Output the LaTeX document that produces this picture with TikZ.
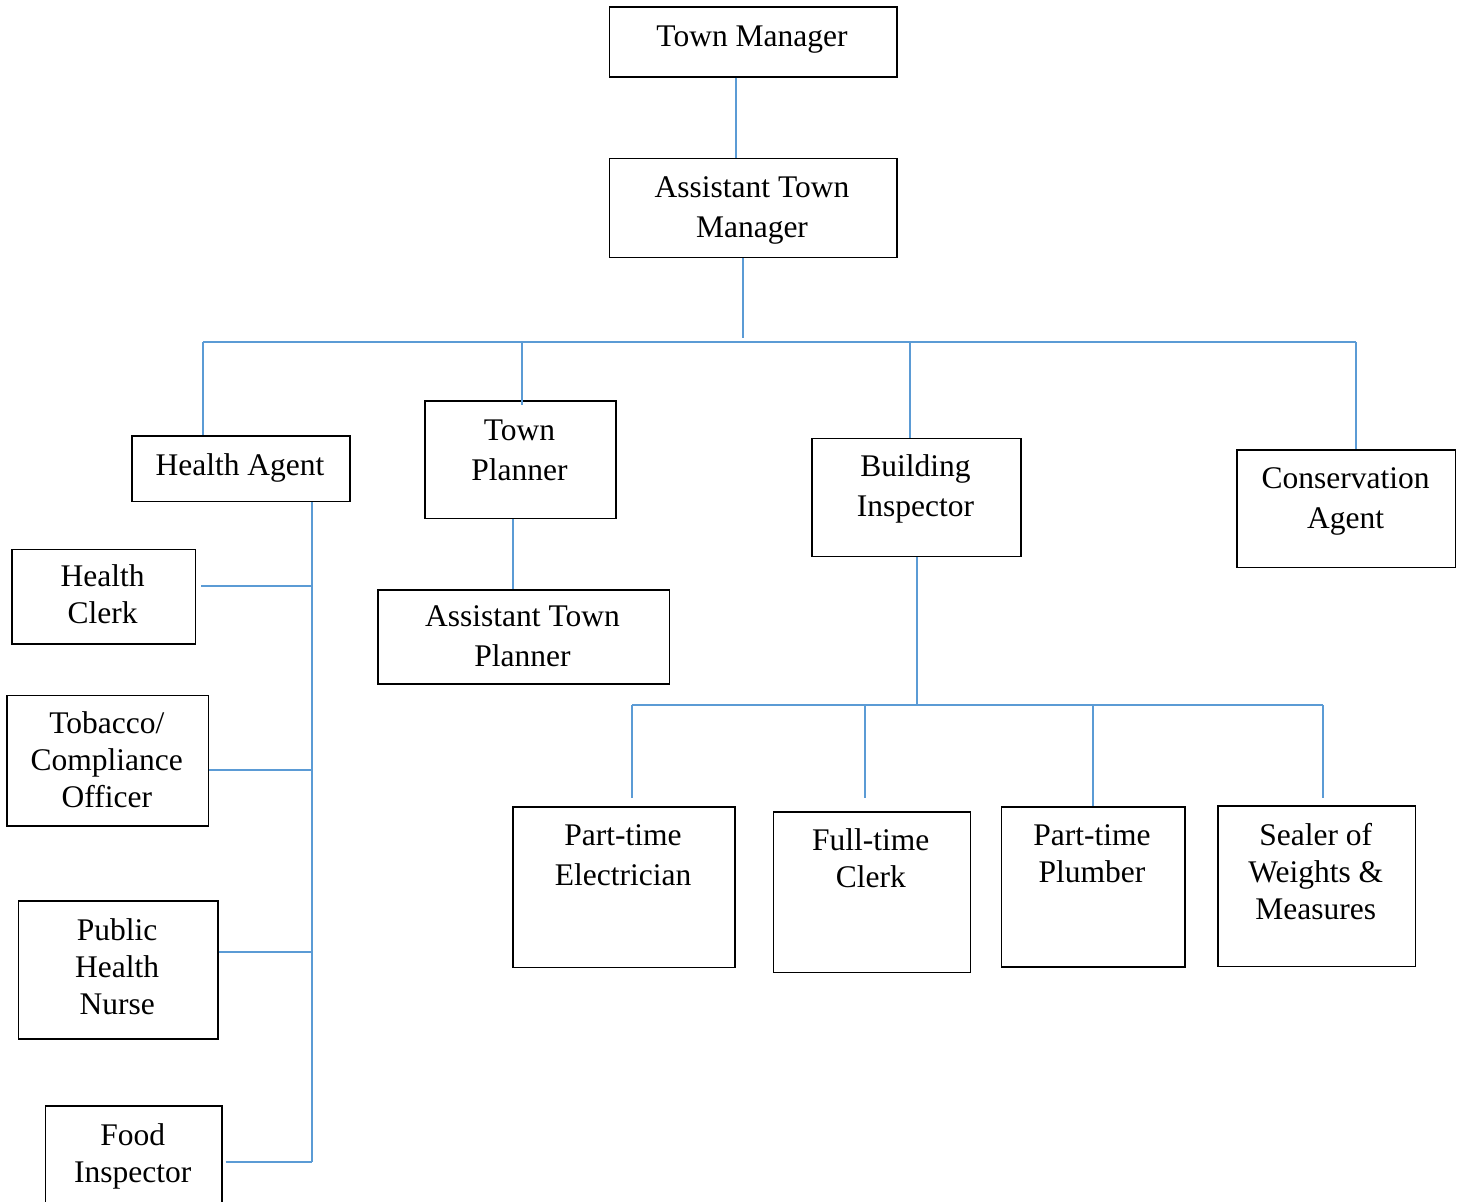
\documentclass[tikz,border=0pt]{standalone}
\usepackage{fontspec}
\setmainfont{Liberation Serif}
\usetikzlibrary{calc}
\definecolor{linkblue}{RGB}{91,155,213}
\begin{document}
\begin{tikzpicture}[x=1pt,y=-1pt,
  box/.style={draw=black, line width=1.5pt, inner sep=0pt, anchor=north west},
  conn/.style={draw=linkblue, line width=1.3pt},
  lbl/.style={anchor=north, inner sep=0pt, align=center,
              font=\fontsize{31.5}{37}\selectfont, yshift=25.9pt},
  lblw/.style={anchor=north, inner sep=0pt, align=center,
               font=\fontsize{31.5}{40}\selectfont, yshift=28pt},
]
\fill[white] (0,0) rectangle (1462,1202);
\clip (0,0) rectangle (1462,1202);

% ---- boxes ----
\node[box, minimum width=287.5pt, minimum height=70pt]   (tm)    at (608.5,6) {};
\node[box, minimum width=287.5pt, minimum height=99pt]   (atm)   at (608.5,157.5) {};
\node[box, minimum width=218pt,   minimum height=65.5pt] (ha)    at (131,435) {};
\node[box, minimum width=183.5pt, minimum height=94.5pt] (hc)    at (11,548.5) {};
\node[box, minimum width=201.5pt, minimum height=130.5pt](tob)   at (6,694.5) {};
\node[box, minimum width=199.5pt, minimum height=138pt]  (phn)   at (17.5,900) {};
\node[box, minimum width=176.5pt, minimum height=110pt]  (food)  at (44.5,1105) {};
\node[box, minimum width=191pt,   minimum height=117.5pt](tp)    at (424,400) {};
\node[box, minimum width=291.5pt, minimum height=94pt]   (atp)   at (377,589.3) {};
\node[box, minimum width=209pt,   minimum height=118pt]  (bi)    at (811,437.7) {};
\node[box, minimum width=218.5pt, minimum height=117.5pt](ca)    at (1236,449) {};
\node[box, minimum width=222pt,   minimum height=160.5pt](elec)  at (512,806) {};
\node[box, minimum width=197pt,   minimum height=160.5pt](clerk) at (772.5,811) {};
\node[box, minimum width=183.5pt, minimum height=160pt]  (plumb) at (1000.5,806) {};
\node[box, minimum width=197.5pt, minimum height=160.5pt](seal)  at (1217,805.3) {};

% ---- labels (placed by first baseline) ----
\node[lbl]  (tmt)    at (752,46)      {\strut Town Manager};
\node[lblw] (atmt)   at (752,197)     {\strut Assistant Town\\Manager};
\node[lbl]  (hat)    at (240,475)     {\strut Health Agent};
\node[lbl]  (hct)    at (102.7,586.7) {\strut Health\\Clerk};
\node[lbl]  (tobt)   at (106.8,733)   {\strut Tobacco/\\Compliance\\Officer};
\node[lbl]  (phnt)   at (117.2,940)   {\strut Public\\Health\\Nurse};
\node[lbl]  (foodt)  at (132.7,1145)  {\strut Food\\Inspector};
\node[lblw] (tpt)    at (519.5,440)   {\strut Town\\Planner};
\node[lblw] (atpt)   at (522.5,626.7) {\strut Assistant Town\\Planner};
\node[lblw] (bit)    at (915.5,476)   {\strut Building\\Inspector};
\node[lblw] (cat)    at (1345.5,488.3){\strut Conservation\\Agent};
\node[lblw] (elect)  at (623,845.7)   {\strut Part-time\\Electrician};
\node[lbl]  (clerkt) at (870.8,850)   {\strut Full-time\\Clerk};
\node[lbl]  (plumbt) at (1092,845)    {\strut Part-time\\Plumber};
\node[lbl]  (sealt)  at (1315.7,845)  {\strut Sealer of\\Weights \&\\Measures};

% ---- junction points ----
\coordinate (xtm)   at (736,0);
\coordinate (j0)    at (743,342);
\coordinate (j0top) at (743,338);
\coordinate (busL)  at (203,342);
\coordinate (busR)  at (1356,342);
\coordinate (btp)   at (522,342);
\coordinate (btpE)  at (522,405);
\coordinate (bbi)   at (910,342);
\coordinate (hsEnd) at (312,1162);
\coordinate (hcj)   at (312,586);
\coordinate (tj)    at (312,770);
\coordinate (pj)    at (312,952);
\coordinate (tpx)   at (513,0);
\coordinate (b2j)   at (917,705);
\coordinate (b2L)   at (632,705);
\coordinate (b2R)   at (1323,705);
\coordinate (b2c)   at (865,705);
\coordinate (b2p)   at (1093,705);
\coordinate (eTop)  at (632,798);
\coordinate (cTop)  at (865,798);
\coordinate (sTop)  at (1323,798);

% ---- connectors ----
\draw[conn] (tm.south -| xtm) -- (atm.north -| xtm);
\draw[conn] (atm.south -| j0) -- (j0top);
\draw[conn] (busL) -- (busR);
\draw[conn] (busL) -- (ha.north -| busL);
\draw[conn] (btp) -- (btpE);
\draw[conn] (bbi) -- (bi.north -| bbi);
\draw[conn] (busR) -- (ca.north -| busR);

\draw[conn] (ha.south -| hsEnd) -- (hsEnd);
\draw[conn] ($(hc.east |- hcj)+(5,0)$) -- (hcj);
\draw[conn] (tob.east |- tj) -- (tj);
\draw[conn] (phn.east |- pj) -- (pj);
\draw[conn] ($(food.east |- hsEnd)+(3,0)$) -- (hsEnd);

\draw[conn] (tp.south -| tpx) -- (atp.north -| tpx);

\draw[conn] (bi.south -| b2j) -- (b2j);
\draw[conn] (b2L) -- (b2R);
\draw[conn] (b2L) -- (eTop);
\draw[conn] (b2c) -- (cTop);
\draw[conn] (b2p) -- (plumb.north -| b2p);
\draw[conn] (b2R) -- (sTop);
\end{tikzpicture}
\end{document}
